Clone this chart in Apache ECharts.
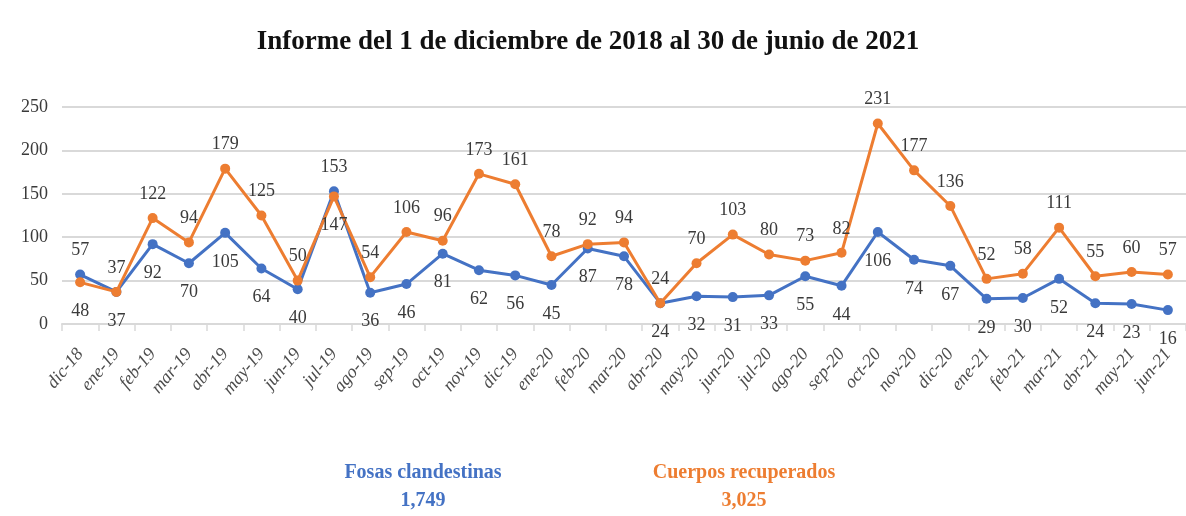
<!DOCTYPE html>
<html>
<head>
<meta charset="utf-8">
<script src="https://cdn.jsdelivr.net/npm/echarts@6/dist/echarts.min.js"></script>
<style>
  html, body { margin: 0; padding: 0; background: #fff; }
  #chart { width: 1186px; height: 516px; }
</style>
</head>
<body>
<div id="chart"></div>
<script>
// meses (dic-18 a jun-21)
const months = ['dic-18', 'ene-19', 'feb-19', 'mar-19', 'abr-19', 'may-19', 'jun-19', 'jul-19',
  'ago-19', 'sep-19', 'oct-19', 'nov-19', 'dic-19', 'ene-20', 'feb-20', 'mar-20', 'abr-20',
  'may-20', 'jun-20', 'jul-20', 'ago-20', 'sep-20', 'oct-20', 'nov-20', 'dic-20', 'ene-21',
  'feb-21', 'mar-21', 'abr-21', 'may-21', 'jun-21'];

// fosas clandestinas
const fosas = [57, 37, 92, 70, 105, 64, 40, 153, 36, 46, 81, 62, 56, 45, 87, 78, 24,
  32, 31, 33, 55, 44, 106, 74, 67, 29, 30, 52, 24, 23, 16];

// cuerpos recuperados
const cuerpos = [48, 37, 122, 94, 179, 125, 50, 147, 54, 106, 96, 173, 161, 78, 92, 94, 24,
  70, 103, 80, 73, 82, 231, 177, 136, 52, 58, 111, 55, 60, 57];

const yTicks = [0, 50, 100, 150, 200, 250];

const serif = "'Liberation Serif', serif";
const blue = '#4472C4';
const orange = '#ED7D31';

const sum = arr => arr.reduce((a, b) => a + b, 0).toLocaleString('en-US');

// etiqueta arriba para la serie mayor, abajo para la menor
const labelAt = up => ({ position: up ? 'top' : 'bottom', distance: up ? 10 : 15 });
const fosasData = fosas.map((v, i) => ({ value: v, label: labelAt(v > cuerpos[i]) }));
const cuerposData = cuerpos.map((v, i) => ({ value: v, label: labelAt(v >= fosas[i]) }));

const chart = echarts.init(document.getElementById('chart'));

const labelStyle = {
  show: true,
  color: '#3a3a3a',
  fontFamily: serif,
  fontSize: 18
};

const legendText = color => ({ fontFamily: serif, fontWeight: 'bold', fontSize: 20, color: color });

chart.setOption({
  backgroundColor: '#fff',
  animation: false,
  title: [
    {
      text: 'Informe del 1 de diciembre de 2018 al 30 de junio de 2021',
      left: 583, top: 24, textAlign: 'center',
      textStyle: { fontFamily: serif, fontWeight: 'bold', fontSize: 27, color: '#111' }
    },
    {
      text: 'Fosas clandestinas',
      subtext: sum(fosas),
      left: 418, top: 458, textAlign: 'center', itemGap: 8,
      textStyle: legendText(blue),
      subtextStyle: legendText(blue)
    },
    {
      text: 'Cuerpos recuperados',
      subtext: sum(cuerpos),
      left: 739, top: 458, textAlign: 'center', itemGap: 8,
      textStyle: legendText(orange),
      subtextStyle: legendText(orange)
    }
  ],
  grid: { left: 62, width: 1126, top: 107, bottom: 192 },
  xAxis: {
    type: 'category',
    data: months,
    boundaryGap: true,
    axisLine: { lineStyle: { color: '#d9d9d9', width: 2 } },
    axisTick: { show: true, length: 7, lineStyle: { color: '#d9d9d9', width: 1.5 } },
    axisLabel: {
      rotate: 50, margin: 27, interval: 0,
      color: '#4d4d4d', fontFamily: serif, fontStyle: 'italic', fontSize: 18
    }
  },
  yAxis: {
    type: 'value',
    min: yTicks[0],
    max: yTicks[yTicks.length - 1],
    interval: yTicks[1] - yTicks[0],
    axisLine: { show: false },
    axisTick: { show: false },
    splitLine: { lineStyle: { color: '#d9d9d9', width: 2 } },
    axisLabel: { margin: 14, color: '#3a3a3a', fontFamily: serif, fontSize: 18 }
  },
  series: [
    {
      name: 'Fosas clandestinas',
      type: 'line',
      data: fosasData,
      color: blue,
      symbol: 'circle', symbolSize: 10,
      lineStyle: { width: 3 },
      label: labelStyle,
      z: 3
    },
    {
      name: 'Cuerpos recuperados',
      type: 'line',
      data: cuerposData,
      color: orange,
      symbol: 'circle', symbolSize: 10,
      lineStyle: { width: 3 },
      label: labelStyle,
      z: 4
    }
  ]
});
</script>
</body>
</html>
